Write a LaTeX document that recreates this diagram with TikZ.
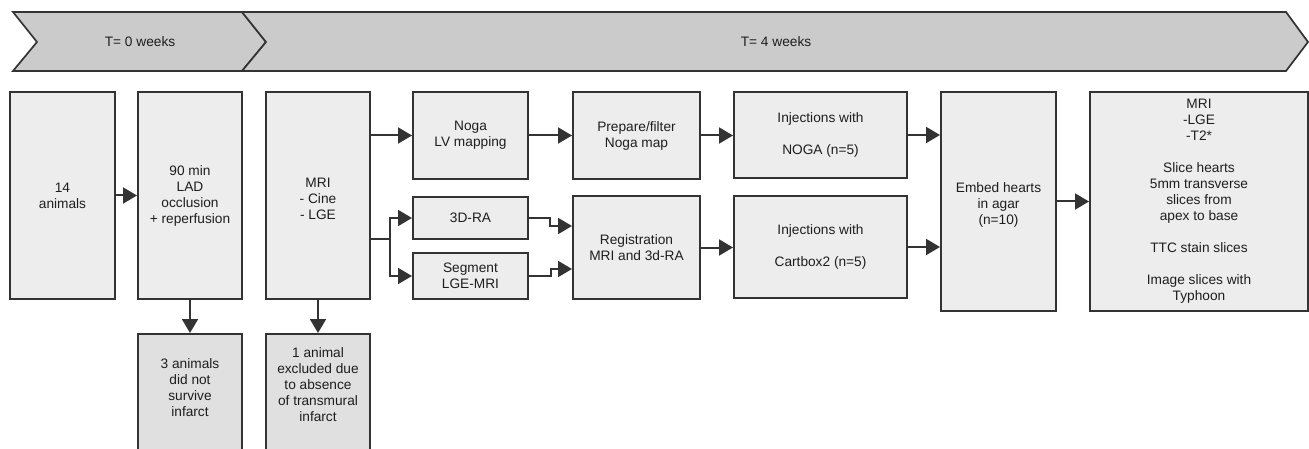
\documentclass[tikz,border=0pt]{standalone}
\usepackage{fontspec}
\setmainfont{Liberation Sans}
\usetikzlibrary{arrows.meta}
\definecolor{edge}{HTML}{333333}
\definecolor{boxfill}{HTML}{EDEDED}
\definecolor{dropfill}{HTML}{E0E0E0}
\definecolor{bannerfill}{HTML}{CBCBCB}
\definecolor{txt}{HTML}{1E1E1E}
\tikzset{
  flowbox/.style={draw=edge, fill=boxfill, line width=2pt, inner sep=0pt,
    align=center, text=txt, font=\fontsize{13.7}{16}\selectfont},
  dropbox/.style={flowbox, fill=dropfill},
  arr/.style={draw=edge, line width=2pt, -{Triangle[length=14pt,width=16pt]}},
  plainline/.style={draw=edge, line width=2pt},
  banner/.style={draw=edge, fill=bannerfill, line width=1.7pt, line join=miter},
  bannertext/.style={text=txt, font=\fontsize{13.7}{16}\selectfont}
}
\begin{document}
\begin{tikzpicture}[x=1pt,y=-1pt]
\useasboundingbox (0,0) rectangle (1309,449);
% banner
\path[banner] (13,12) -- (242,12) -- (266,42) -- (242,71) -- (13,71) -- (37,42) -- cycle;
\path[banner] (242,12) -- (1286,12) -- (1308,42) -- (1286,71) -- (242,71) -- (266,42) -- cycle;
\node[bannertext] (t0) at (140,42) {T= 0 weeks};
\node[bannertext] (t4) at (776,42) {T= 4 weeks};
% boxes
\node[flowbox, minimum width=105pt, minimum height=207pt] (A) at (62.5,195.5) {14\\animals};
\node[flowbox, minimum width=104pt, minimum height=207pt] (B) at (190,195.5) {90 min\\LAD\\occlusion\\+ reperfusion};
\node[flowbox, minimum width=104pt, minimum height=207pt] (C) at (318,195.5) {\mbox{}\\MRI\\- Cine\\- LGE};
\node[dropbox, minimum width=104pt, minimum height=117pt] (B2) at (190,392.5) {\mbox{}\\3 animals\\did not\\survive\\infarct\\\mbox{}};
\node[dropbox, minimum width=104pt, minimum height=117pt] (C2) at (318,392.5) {1 animal\\excluded due\\to absence\\of transmural\\infarct\\\mbox{}};
\node[flowbox, minimum width=115pt, minimum height=87pt] (Noga) at (470.5,135.5) {Noga\\LV mapping};
\node[flowbox, minimum width=127pt, minimum height=87pt] (Prep) at (636.5,135.5) {Prepare/filter\\Noga map};
\node[flowbox, minimum width=115pt, minimum height=42pt] (RA) at (470.5,218) {3D-RA};
\node[flowbox, minimum width=115pt, minimum height=46pt] (Seg) at (470.5,276) {Segment\\LGE-MRI};
\node[flowbox, minimum width=127pt, minimum height=103pt] (Reg) at (636.5,247.5) {Registration\\MRI and 3d-RA};
\node[flowbox, minimum width=173pt, minimum height=86pt] (NInj) at (820.5,135) {Injections with\\\mbox{}\\NOGA (n=5)};
\node[flowbox, minimum width=173pt, minimum height=102pt] (CInj) at (820.5,247) {Injections with\\\mbox{}\\Cartbox2 (n=5)};
\node[flowbox, minimum width=115pt, minimum height=219pt] (Embed) at (998.5,201.5) {\mbox{}\\Embed hearts\\in agar\\(n=10)};
\node[flowbox, minimum width=218pt, minimum height=219pt] (Last) at (1199,201.5) {MRI\\-LGE\\-T2*\\\mbox{}\\Slice hearts\\5mm transverse\\slices from\\apex to base\\\mbox{}\\TTC stain slices\\\mbox{}\\Image slices with\\Typhoon};
% connectors
\draw[arr] (A.east) -- (B.west);
\draw[arr] (B.south) -- (B2.north);
\draw[arr] (C.south) -- (C2.north);
\draw[arr] (C.east |- Noga.west) -- (Noga.west);
\coordinate (split) at (390,239);
\draw[plainline] (C.east |- split) -- (split);
\draw[arr] (split) |- (RA.west);
\draw[arr] (split) |- (Seg.west);
\draw[arr] (Noga.east) -- (Prep.west);
\coordinate (j1) at (550,226);
\coordinate (j2) at (551,269);
\draw[arr] (RA.east) -| (j1) -- (Reg.west |- j1);
\draw[arr] (Seg.east) -| (j2) -- (Reg.west |- j2);
\draw[arr] (Prep.east) -- (NInj.west |- Prep.east);
\draw[arr] (Reg.east) -- (CInj.west |- Reg.east);
\draw[arr] (NInj.east) -- (Embed.west |- NInj.east);
\draw[arr] (CInj.east) -- (Embed.west |- CInj.east);
\draw[arr] (Embed.east) -- (Last.west);
\end{tikzpicture}
\end{document}
